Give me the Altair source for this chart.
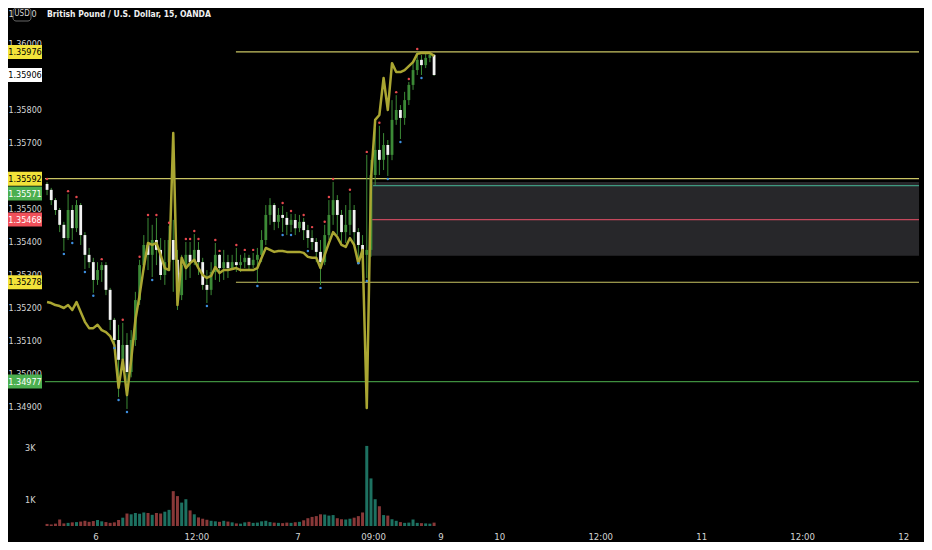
import altair as alt
import pandas as pd

# ---------------- data (30-minute bars) ----------------
T0 = -5.75          # hours relative to day "6" 00:00
STEP = 0.5
open0 = 1.35576
close = [1.35558, 1.35527, 1.35497, 1.35452, 1.35412, 1.35497, 1.35442, 1.35512, 1.35421, 1.35361,
         1.35339, 1.35285, 1.35315, 1.35330, 1.35255, 1.35164, 1.35103, 1.35043, 1.35088, 1.35006,
         1.35103, 1.35224, 1.35330, 1.35391, 1.35361, 1.35406, 1.35376, 1.35300, 1.35339, 1.35406,
         1.35346, 1.35239, 1.35330, 1.35361, 1.35339, 1.35376, 1.35339, 1.35270, 1.35255, 1.35309,
         1.35361, 1.35321, 1.35339, 1.35321, 1.35339, 1.35330, 1.35339, 1.35352, 1.35330, 1.35346,
         1.35361, 1.35406, 1.35482, 1.35512, 1.35461, 1.35482, 1.35473, 1.35452, 1.35467, 1.35442,
         1.35461, 1.35436, 1.35412, 1.35400, 1.35370, 1.35339, 1.35421, 1.35482, 1.35527, 1.35482,
         1.35430, 1.35452, 1.35497, 1.35430, 1.35391, 1.35361, 1.35376, 1.35603, 1.35679, 1.35649,
         1.35694, 1.35664, 1.35770, 1.35800, 1.35776, 1.35830, 1.35876, 1.35921, 1.35952, 1.35936,
         1.35958, 1.35967, 1.35906]
high = [1.35582, 1.35564, 1.35533, 1.35503, 1.35461, 1.35545, 1.35512, 1.35527, 1.35518, 1.35430,
        1.35382, 1.35352, 1.35339, 1.35339, 1.35339, 1.35261, 1.35170, 1.35149, 1.35155, 1.35124,
        1.35133, 1.35249, 1.35346, 1.35421, 1.35473, 1.35452, 1.35473, 1.35412, 1.35406, 1.35449,
        1.35467, 1.35376, 1.35361, 1.35400, 1.35400, 1.35424, 1.35400, 1.35352, 1.35315, 1.35339,
        1.35397, 1.35364, 1.35376, 1.35361, 1.35361, 1.35382, 1.35361, 1.35367, 1.35361, 1.35367,
        1.35382, 1.35436, 1.35512, 1.35533, 1.35518, 1.35503, 1.35509, 1.35491, 1.35485, 1.35485,
        1.35482, 1.35473, 1.35452, 1.35436, 1.35412, 1.35406, 1.35452, 1.35527, 1.35582, 1.35542,
        1.35497, 1.35512, 1.35549, 1.35512, 1.35442, 1.35421, 1.35664, 1.35649, 1.35745, 1.35752,
        1.35730, 1.35709, 1.35830, 1.35845, 1.35815, 1.35855, 1.35885, 1.35945, 1.35976, 1.35967,
        1.35972, 1.35974, 1.35970]
low = [1.35542, 1.35512, 1.35482, 1.35430, 1.35373, 1.35406, 1.35406, 1.35430, 1.35391, 1.35318,
       1.35321, 1.35246, 1.35270, 1.35279, 1.35239, 1.35133, 1.35088, 1.34930, 1.35012, 1.34894,
       1.34990, 1.35085, 1.35209, 1.35315, 1.35315, 1.35294, 1.35330, 1.35285, 1.35270, 1.35315,
       1.35249, 1.35194, 1.35224, 1.35285, 1.35291, 1.35330, 1.35300, 1.35255, 1.35215, 1.35239,
       1.35285, 1.35279, 1.35285, 1.35291, 1.35315, 1.35309, 1.35309, 1.35321, 1.35315, 1.35321,
       1.35276, 1.35339, 1.35391, 1.35452, 1.35436, 1.35442, 1.35430, 1.35421, 1.35430, 1.35421,
       1.35430, 1.35406, 1.35382, 1.35376, 1.35339, 1.35270, 1.35330, 1.35406, 1.35452, 1.35421,
       1.35391, 1.35397, 1.35421, 1.35391, 1.35345, 1.35339, 1.35291, 1.35355, 1.35573, 1.35603,
       1.35618, 1.35600, 1.35648, 1.35755, 1.35712, 1.35755, 1.35815, 1.35861, 1.35906, 1.35906,
       1.35927, 1.35945, 1.35903]
overlay = [1.35218, 1.35215, 1.35209, 1.35206, 1.35200, 1.35209, 1.35194, 1.35218, 1.35188, 1.35158,
           1.35139, 1.35139, 1.35149, 1.35133, 1.35127, 1.35115, 1.35088, 1.34958, 1.35043, 1.34936,
           1.35043, 1.35164, 1.35239, 1.35324, 1.35397, 1.35391, 1.35397, 1.35361, 1.35321, 1.35315,
           1.35730, 1.35209, 1.35352, 1.35321, 1.35336, 1.35346, 1.35321, 1.35300, 1.35291, 1.35297,
           1.35324, 1.35306, 1.35315, 1.35315, 1.35318, 1.35321, 1.35315, 1.35315, 1.35315, 1.35315,
           1.35321, 1.35352, 1.35382, 1.35376, 1.35370, 1.35373, 1.35373, 1.35370, 1.35370, 1.35370,
           1.35370, 1.35367, 1.35355, 1.35352, 1.35352, 1.35321, 1.35361, 1.35397, 1.35430, 1.35415,
           1.35391, 1.35385, 1.35412, 1.35391, 1.35336, 1.35376, 1.34897, 1.35588, 1.35770, 1.35785,
           1.35897, 1.35800, 1.35942, 1.35915, 1.35915, 1.35921, 1.35933, 1.35945, 1.35970, 1.35973,
           1.35973, 1.35973, 1.35964]
volume = [80, 60, 90, 250, 100, 120, 140, 150, 170, 200,
          160, 190, 230, 180, 150, 120, 140, 230, 320, 480,
          450, 500, 470, 520, 500, 430, 500, 480, 550, 620,
          1340, 1150, 900, 1030, 600, 450, 330, 280, 240, 200,
          180, 160, 200, 170, 140, 100, 90, 140, 160, 120,
          130, 180, 200, 150, 130, 120, 110, 130, 120, 140,
          160, 220, 300, 350, 380, 450, 440, 400, 420, 300,
          260, 250, 280, 320, 380, 520, 3080, 1830, 1030, 760,
          420, 400, 260, 200, 150, 120, 130, 250, 120, 110,
          100, 90, 130]
fractal_high_idx = [0, 5, 7, 13, 18, 22, 24, 26, 29, 33, 34, 35, 36, 40, 41, 45, 47, 49,
                    56, 58, 61, 63, 66, 67, 68, 72, 76, 79, 83, 86, 88]
fractal_low_idx = [4, 6, 9, 11, 16, 17, 19, 25, 38, 50, 56, 58, 62, 65, 74, 76, 81, 84, 89]

x_tick_values = [0, 12, 24, 33, 41, 48, 60, 72, 84, 96]
x_tick_labels = ["6", "12:00", "7", "09:00", "9", "10", "12:00", "11", "12:00", "12"]
# 1.359 and 1.356 are fully hidden behind price labels in the picture
y_tick_values = [1.360, 1.358, 1.357, 1.355, 1.354, 1.353, 1.352, 1.351, 1.350, 1.349]
vol_tick_values = [1000, 3000]

hline_prices = [1.35976, 1.35592, 1.35571, 1.35468, 1.35278, 1.34977]
hline_start = [16.7, -6.0, 33.0, 32.7, 16.7, -6.0]
hline_colors = ["#c9c463", "#c9c463", "#3f9a80", "#c4485c", "#c9c463", "#3f8f3f"]
zone_top, zone_bottom, zone_start = 1.35582, 1.35358, 32.7

label_prices = [1.35976, 1.35906, 1.35592, 1.35571, 1.35468, 1.35278, 1.34977]
label_bg = ["#f2e33a", "#ffffff", "#f2e33a", "#4caf50", "#f0505a", "#f2e33a", "#4caf50"]
label_fg = ["#000000", "#000000", "#000000", "#ffffff", "#ffffff", "#000000", "#ffffff"]
label_shift = [0, 0, 0, 8, 0, 0, 0]

title_text = "British Pound / U.S. Dollar, 15, OANDA"
currency_texts = ["1", "USD", "0"]

# ---------------- layout ----------------
X_DOMAIN = [-5.993, 97.885]
Y_DOMAIN = [1.3453333, 1.3610909]
V_DOMAIN = [-77, 19923]
W, H = 884, 520
FONT = "DejaVu Sans Condensed, Liberation Sans Narrow, Roboto, sans-serif"
AX_COL = "#d4d4d4"

n = len(close)
opens = [open0] + close[:-1]
df = pd.DataFrame({
    "t": [T0 + STEP * i for i in range(n)],
    "open": opens, "close": close, "high": high, "low": low,
    "overlay": overlay, "vol": volume, "zero": [0] * n,
})
df["dir"] = ["up" if c >= o else "down" for o, c in zip(opens, close)]
df["fh"] = [i in fractal_high_idx for i in range(n)]
df["fl"] = [i in fractal_low_idx for i in range(n)]

xs = alt.Scale(domain=X_DOMAIN, nice=False, zero=False)
ys = alt.Scale(domain=Y_DOMAIN, nice=False, zero=False)
vs = alt.Scale(domain=V_DOMAIN, nice=False, zero=False)

label_expr = "".join(f"datum.value == {v} ? '{l}' : " for v, l in zip(x_tick_values, x_tick_labels)) + "''"
x_axis = alt.Axis(values=x_tick_values, labelExpr=label_expr, title=None, grid=False, ticks=False,
                  domain=False, labelColor=AX_COL, labelFontSize=9.5, labelFont=FONT,
                  labelPadding=3, labelOverlap=False, labelFlush=False)
y_axis = alt.Axis(values=y_tick_values, format=".5f", orient="left", title=None, grid=False,
                  ticks=False, domain=False, labelColor=AX_COL, labelFontSize=9, labelFont=FONT,
                  labelAlign="left", labelPadding=32, labelOverlap=False, labelBaseline="middle",
                  labelBound=False)
v_axis = alt.Axis(values=vol_tick_values, labelExpr="datum.value/1000 + 'K'", orient="left", title=None,
                  grid=False, ticks=False, domain=False, labelColor=AX_COL, labelFontSize=9,
                  labelFont=FONT, labelPadding=5, labelOverlap=False, labelBaseline="middle")


def PX(field):
    return alt.X(field, scale=xs, axis=x_axis)


def PY(field):
    return alt.Y(field, scale=ys, axis=y_axis)


base = alt.Chart(df)

zone_df = pd.DataFrame({"t0": [zone_start], "t1": [X_DOMAIN[1]], "p0": [zone_top], "p1": [zone_bottom]})
zone = alt.Chart(zone_df).mark_rect(color="#27272a").encode(
    x=PX("t0:Q"), x2="t1:Q", y=PY("p0:Q"), y2="p1:Q")

hl_df = pd.DataFrame({"p": hline_prices, "t0": hline_start, "t1": [X_DOMAIN[1]] * len(hline_prices),
                      "c": hline_colors})
hlines = alt.Chart(hl_df).mark_rule(strokeWidth=1.2, clip=True).encode(
    x=PX("t0:Q"), x2="t1:Q", y=PY("p:Q"), color=alt.Color("c:N", scale=None))

dir_scale = alt.Scale(domain=["up", "down"], range=["#3c8a36", "#f2f2f2"])
wicks = base.mark_rule(strokeWidth=1, color="#3c8a36").encode(
    x=PX("t:Q"), y=PY("low:Q"), y2="high:Q")
bodies = base.mark_bar(size=2.8).encode(
    x=PX("t:Q"), y=PY("open:Q"), y2="close:Q",
    color=alt.Color("dir:N", scale=dir_scale, legend=None))
ov_line = base.mark_line(color="#aaa632", strokeWidth=2.5, strokeJoin="round").encode(
    x=PX("t:Q"), y=PY("overlay:Q"))
dots_hi = base.transform_filter("datum.fh").mark_circle(size=6, color="#e5484d", opacity=1, yOffset=-3).encode(
    x=PX("t:Q"), y=PY("high:Q"))
dots_lo = base.transform_filter("datum.fl").mark_circle(size=6, color="#3d8fe0", opacity=1, yOffset=3).encode(
    x=PX("t:Q"), y=PY("low:Q"))

label_layers = []
for p, bg, fg, sh in zip(label_prices, label_bg, label_fg, label_shift):
    ldf = pd.DataFrame({"p": [p], "s": [f"{p:.5f}"]})
    label_layers.append(alt.Chart(ldf).mark_rect(color=bg, yOffset=sh - 7, y2Offset=sh + 7).encode(
        x=alt.value(-32), x2=alt.value(2), y=PY("p:Q"), y2="p:Q"))
    label_layers.append(alt.Chart(ldf).mark_text(color=fg, fontSize=9, font=FONT, dy=sh,
                                                  align="center", baseline="middle").encode(
        x=alt.value(-15), y=PY("p:Q"), text="s:N"))

title_df = pd.DataFrame({"s": [title_text]})
title = alt.Chart(title_df).mark_text(color="#f0f0f0", fontSize=8.5, font=FONT, fontWeight="bold",
                                      align="left", baseline="middle").encode(
    x=alt.value(7), y=alt.value(6), text="s:N")

cur_layers = []
for s, px, fs in zip(currency_texts, [-29, -18, -6], [9, 8, 9]):
    cdf = pd.DataFrame({"s": [s]})
    cur_layers.append(alt.Chart(cdf).mark_text(color="#d4d4d4", fontSize=fs, font=FONT,
                                               align="center", baseline="middle").encode(
        x=alt.value(px), y=alt.value(6), text="s:N"))
cur_box = alt.Chart(title_df).mark_rect(filled=False, stroke="#666666", strokeWidth=1, cornerRadius=3).encode(
    x=alt.value(-27), x2=alt.value(-9), y=alt.value(0), y2=alt.value(13))

price_layer = alt.layer(zone, hlines, wicks, bodies, ov_line, dots_hi, dots_lo,
                        *label_layers, title, cur_box, *cur_layers)

vol_scale_col = alt.Scale(domain=["up", "down"], range=["#1f7766", "#8f3b3b"])
vol = base.mark_bar(size=3, opacity=0.95).encode(
    x=PX("t:Q"), y=alt.Y("vol:Q", scale=vs, axis=v_axis), y2="zero:Q",
    color=alt.Color("dir:N", scale=vol_scale_col, legend=None))

chart = alt.layer(vol, price_layer).resolve_scale(y="independent", color="independent").properties(
    width=W, height=H,
    autosize=alt.AutoSizeParams(type="none"),
    padding={"left": 32, "top": 0, "right": 0, "bottom": 14},
    background="#000000",
).configure_view(stroke=None)

chart.save("out.html", embed_options={"renderer": "svg", "actions": False})
